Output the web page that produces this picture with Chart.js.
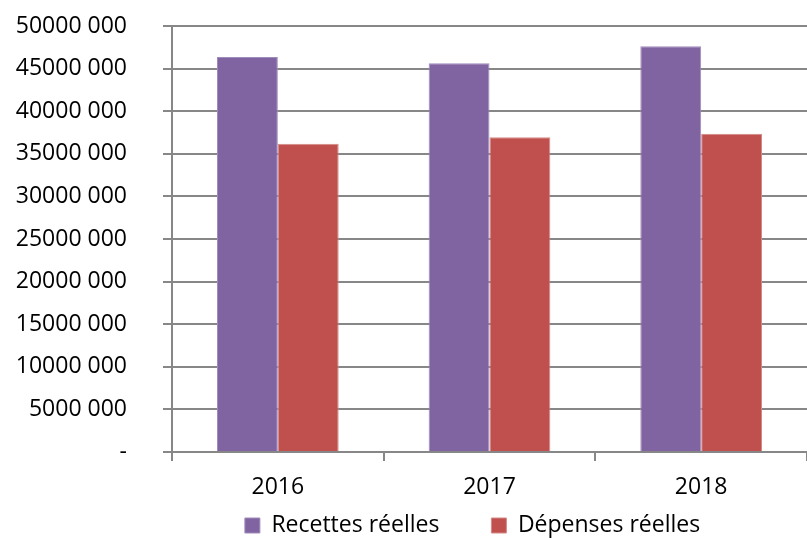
<!DOCTYPE html>
<html>
<head>
<meta charset="utf-8">
<script src="https://cdn.jsdelivr.net/npm/chart.js@4/dist/chart.umd.min.js"></script>
<style>
  html, body { margin: 0; padding: 0; background: #fff; }
  #wrap { width: 807px; height: 538px; }
</style>
</head>
<body>
<div id="wrap"><canvas id="budgetChart"></canvas></div>
<script>
const years = ['2016', '2017', '2018'];
const recettes = [46360000, 45620000, 47620000];
const depenses = [36190000, 36940000, 37360000];
const yMax = 50000000;
const yStep = 5000000;

const FONT = "'Open Sans', sans-serif";
const FONT_SIZE = 23;
const gridGrey = '#878787';

function formatTick(value) {
    if (value === 0) return '-';
    return Math.floor(value / 1000) + ' 000';
}

// the legend needs a wide gap between its two items, but Chart.js uses the
// same padding above the row too; pull the legend box back up after layout
// (only its top: the legend clips to its own box when drawing)
const legendNudge = {
    id: 'legendNudge',
    afterLayout(chart) {
        const lg = chart.legend;
        if (!lg) return;
        const dy = 40, dx = 17;
        lg.top -= dy;
        lg.left -= dx;
        lg.right -= dx;
    }
};

document.addEventListener('DOMContentLoaded', () => {
    const ctx = document.getElementById('budgetChart').getContext('2d');
    new Chart(ctx, {
        type: 'bar',
        data: {
            labels: years,
            datasets: [{
                label: 'Recettes réelles',
                data: recettes,
                backgroundColor: '#8064A2',
                borderColor: '#a08cbc',
                borderWidth: 1
            }, {
                label: 'Dépenses réelles',
                data: depenses,
                backgroundColor: '#C0504D',
                borderColor: '#d48a88',
                borderWidth: 1
            }]
        },
        plugins: [legendNudge],
        options: {
            responsive: true,
            maintainAspectRatio: false,
            animation: false,
            layout: { padding: { top: 26, right: 0, bottom: 0, left: 0 } },
            datasets: {
                bar: { categoryPercentage: 0.575, barPercentage: 1 }
            },
            plugins: {
                tooltip: { enabled: false },
                legend: {
                    position: 'bottom',
                    fullSize: false,
                    maxHeight: 36,
                    labels: {
                        color: '#000',
                        font: { family: FONT, size: FONT_SIZE },
                        boxWidth: 15,
                        boxHeight: 15,
                        padding: 52
                    }
                }
            },
            scales: {
                x: {
                    grid: {
                        display: true,
                        drawOnChartArea: false,
                        drawTicks: true,
                        tickLength: 9,
                        color: gridGrey,
                        lineWidth: 2
                    },
                    border: { color: gridGrey, width: 2 },
                    ticks: {
                        color: '#000',
                        font: { family: FONT, size: FONT_SIZE },
                        padding: 13
                    },
                    afterFit: (scale) => { scale.height = 50; }
                },
                y: {
                    min: 0,
                    max: yMax,
                    grid: {
                        color: gridGrey,
                        lineWidth: 2,
                        tickLength: 9
                    },
                    border: { color: gridGrey, width: 2 },
                    ticks: {
                        stepSize: yStep,
                        color: '#000',
                        font: { family: FONT, size: FONT_SIZE },
                        padding: 36,
                        callback: formatTick
                    },
                    afterFit: (scale) => {
                        scale.width = 172;
                        scale.paddingTop = 0;
                        scale.paddingBottom = 0;
                    }
                }
            }
        }
    });
});
</script>
</body>
</html>
